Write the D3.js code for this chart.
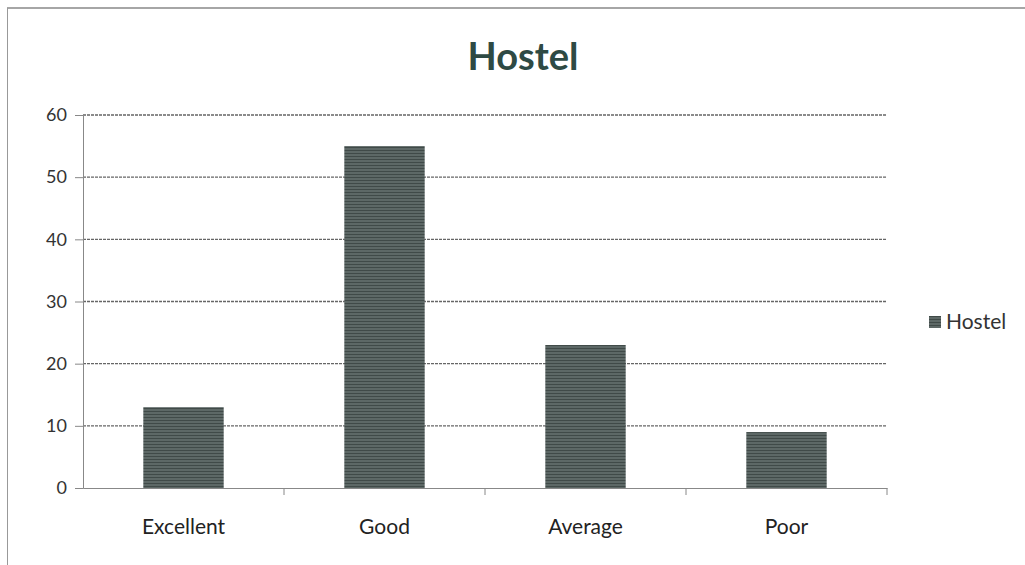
<!DOCTYPE html>
<html>
<head>
<meta charset="utf-8">
<script src="https://cdn.jsdelivr.net/npm/d3@7"></script>
<style>
  body { margin: 0; background: #fff; }
  svg { display: block; }
  text { font-family: Lato, "Open Sans", sans-serif; }
</style>
</head>
<body>
<svg id="chart" width="1025" height="565"></svg>
<script>
const categories = ["Excellent", "Good", "Average", "Poor"];
const values = [13, 55, 23, 9];
const yTicks = [0, 10, 20, 30, 40, 50, 60];
const seriesName = "Hostel";

const svg = d3.select('#chart');
const margin = {left: 83, right: 138, top: 115, bottom: 77};
const width = 1025, height = 565;

// scanned page frame
svg.append("line").attr("x1", 7).attr("x2", width).attr("y1", 8).attr("y2", 8)
    .attr("stroke", "#888").attr("stroke-width", 1.5);
svg.append("line").attr("x1", 7.5).attr("x2", 7.5).attr("y1", 8).attr("y2", height)
    .attr("stroke", "#999").attr("stroke-width", 1);

// stripe pattern to imitate the printed fill
const defs = svg.append("defs");
const pat = defs.append("pattern").attr("id", "stripes")
    .attr("patternUnits", "userSpaceOnUse").attr("width", 4).attr("height", 3);
pat.append("rect").attr("width", 4).attr("height", 3).attr("fill", "#5d6866");
pat.append("rect").attr("width", 4).attr("height", 1).attr("fill", "#404a48");

const x = d3.scaleBand()
    .domain(categories)
    .range([margin.left, width - margin.right])
    .paddingInner(0.6)
    .paddingOuter(0.3);

const y = d3.scaleLinear()
    .domain([0, 60])
    .range([height - margin.bottom, margin.top]);

// gridlines
svg.append("g")
    .selectAll("line")
    .data(yTicks.filter(d => d > 0))
    .enter()
    .append("line")
    .attr("x1", margin.left)
    .attr("x2", width - margin.right)
    .attr("y1", d => y(d))
    .attr("y2", d => y(d))
    .attr("stroke", "#666")
    .attr("stroke-width", 1.3)
    .attr("stroke-dasharray", "3,1");

// bars
svg.append("g")
    .selectAll("rect")
    .data(values)
    .enter()
    .append("rect")
    .attr("x", (d, i) => x(categories[i]))
    .attr("y", d => y(d))
    .attr("width", x.bandwidth())
    .attr("height", d => y(0) - y(d))
    .attr("fill", "url(#stripes)");

// y axis
const yAxis = svg.append("g")
    .attr("transform", `translate(${margin.left},0)`)
    .call(d3.axisLeft(y).tickValues(yTicks).tickSize(8).tickPadding(8));
yAxis.selectAll("text").attr("font-size", 18).attr("fill", "#333");
yAxis.selectAll("line, path").attr("stroke", "#888");

// x axis
const xAxis = svg.append("g")
    .attr("transform", `translate(0,${y(0)})`)
    .call(d3.axisBottom(x).tickSize(0).tickPadding(31));
xAxis.select(".domain").attr("stroke", "#888");
xAxis.selectAll("text").attr("font-size", 21).attr("fill", "#222");

// category separators below the axis
const step = x.step();
svg.append("g")
    .selectAll("line")
    .data(categories)
    .enter()
    .append("line")
    .attr("x1", d => x(d) - step * 0.3 + step)
    .attr("x2", d => x(d) - step * 0.3 + step)
    .attr("y1", y(0))
    .attr("y2", y(0) + 7)
    .attr("stroke", "#888");

// title
svg.append("text")
    .attr("x", 523)
    .attr("y", 70)
    .attr("text-anchor", "middle")
    .attr("font-size", 38)
    .attr("font-weight", "bold")
    .attr("fill", "#2e4a44")
    .text(seriesName);

// legend
const legend = svg.append("g").attr("transform", "translate(929,322)");
legend.append("rect").attr("x", 0).attr("y", -6).attr("width", 12).attr("height", 12)
    .attr("fill", "url(#stripes)");
legend.append("text").attr("x", 17).attr("y", 7).attr("font-size", 21).attr("fill", "#333")
    .text(seriesName);
</script>
</body>
</html>
